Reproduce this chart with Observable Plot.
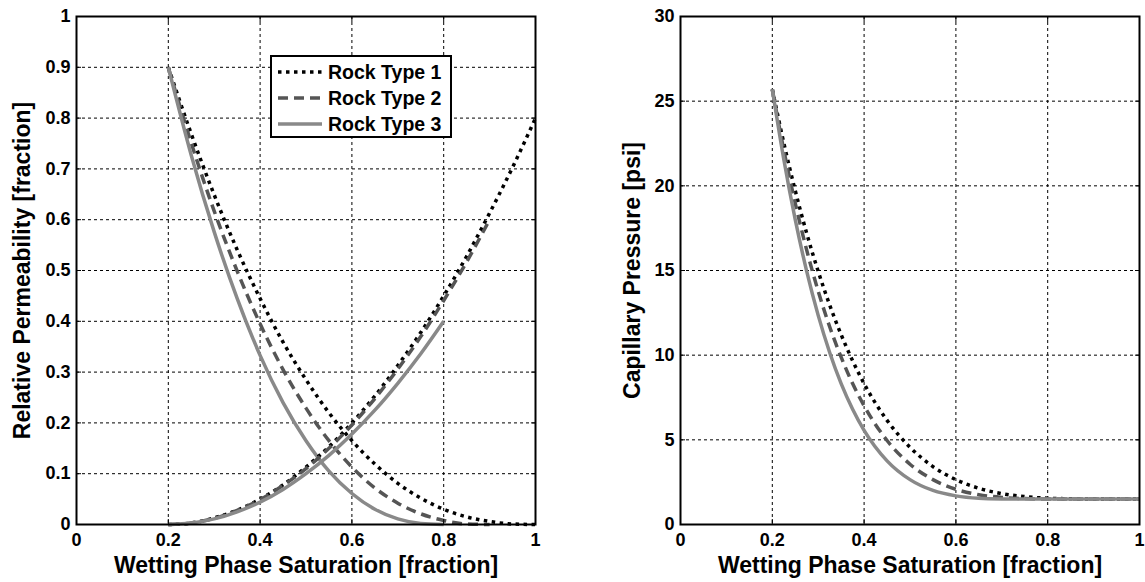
<!DOCTYPE html>
<html>
<head>
<meta charset="utf-8">
<script src="https://cdn.jsdelivr.net/npm/d3@7"></script>
<script src="https://cdn.jsdelivr.net/npm/@observablehq/plot@0.6"></script>
<style>
  html, body { margin: 0; padding: 0; background: #fff; }
  #figure { position: relative; width: 1145px; height: 582px; overflow: hidden; font-family: "Liberation Sans", Arial, sans-serif; }
  #figure > .panel { position: absolute; top: 0; }
  #legend { position: absolute; left: 270px; top: 55px; width: 178px; height: 79px; border: 2px solid #000; background: #fff; }
  #legend .row { position: absolute; left: 0; height: 26px; display: flex; align-items: center; }
  #legend .row span { font-size: 19.5px; font-weight: bold; color: #000; }
</style>
</head>
<body>
<div id="figure"></div>
<script>
// Wetting phase saturation grids [fraction]
const swKr = [0.2, 0.25, 0.3, 0.35, 0.4, 0.45, 0.5, 0.55, 0.6, 0.65, 0.7, 0.75, 0.8, 0.85, 0.9, 0.95, 1];
const swPc = [0.2, 0.225, 0.25, 0.275, 0.3, 0.325, 0.35, 0.375, 0.4, 0.45, 0.5, 0.55, 0.6, 0.65, 0.7, 0.75, 0.8, 0.85, 0.9, 0.95, 1];

// Non-wetting phase relative permeability
const kroType1 = [0.9, 0.769, 0.649, 0.541, 0.445, 0.359, 0.285, 0.220, 0.165, 0.119, 0.081, 0.052, 0.030, 0.015, 0.006, 0.001, 0];
const kroType2 = [0.9, 0.751, 0.617, 0.499, 0.395, 0.305, 0.229, 0.165, 0.113, 0.072, 0.042, 0.021, 0.008, 0.001, 0];
const kroType3 = [0.9, 0.727, 0.576, 0.445, 0.333, 0.240, 0.165, 0.105, 0.061, 0.030, 0.011, 0.002, 0];

// Wetting phase relative permeability
const krwType1 = [0, 0.003, 0.013, 0.028, 0.05, 0.078, 0.113, 0.153, 0.2, 0.253, 0.313, 0.378, 0.45, 0.528, 0.613, 0.703, 0.8];
const krwType2 = [0, 0.003, 0.012, 0.028, 0.049, 0.077, 0.110, 0.150, 0.196, 0.248, 0.306, 0.370, 0.441, 0.517, 0.6];
const krwType3 = [0, 0.003, 0.011, 0.025, 0.044, 0.069, 0.1, 0.136, 0.178, 0.225, 0.278, 0.336, 0.4];

// Capillary pressure [psi]
const pcType1 = [25.7, 22.54, 19.72, 17.19, 14.95, 12.96, 11.21, 9.67, 8.32, 6.15, 4.56, 3.42, 2.65, 2.14, 1.82, 1.65, 1.55, 1.52, 1.5, 1.5, 1.5];
const pcType2 = [25.7, 22.12, 18.97, 16.2, 13.78, 11.68, 9.88, 8.32, 7.01, 4.96, 3.56, 2.65, 2.08, 1.76, 1.6, 1.53, 1.5, 1.5, 1.5, 1.5, 1.5];
const pcType3 = [25.7, 21.57, 18.0, 14.95, 12.35, 10.16, 8.32, 6.81, 5.56, 3.76, 2.65, 2.01, 1.69, 1.55, 1.51, 1.5, 1.5, 1.5, 1.5, 1.5, 1.5];

const rockTypes = ["Rock Type 1", "Rock Type 2", "Rock Type 3"];
const xTicks = [0, 0.2, 0.4, 0.6, 0.8, 1];
const krTicks = [0, 0.1, 0.2, 0.3, 0.4, 0.5, 0.6, 0.7, 0.8, 0.9, 1];
const pcTicks = [0, 5, 10, 15, 20, 25, 30];

// Line styles per rock type: dotted black, dashed dark grey, solid grey
const lineStyles = [
  {stroke: "#000000", strokeDasharray: "3.5,4.5", strokeWidth: 3.5},
  {stroke: "#555555", strokeDasharray: "10,6", strokeWidth: 3.5},
  {stroke: "#898989", strokeDasharray: null, strokeWidth: 3.5}
];

function rows(sw, values) {
  return values.map((v, i) => ({sw: sw[i], v}));
}

function curve(sw, values, k) {
  return Plot.line(rows(sw, values), {x: "sw", y: "v", curve: "monotone-x", strokeLinecap: "butt", ...lineStyles[k]});
}

const gridStyle = {stroke: "#000", strokeOpacity: 1, strokeWidth: 1, strokeDasharray: "3,3"};

function panel({width, marginLeft, marginRight, yDomain, yTicks, yLabel, yLabelDx, curves}) {
  return Plot.plot({
    width, height: 582,
    marginLeft, marginRight, marginTop: 16, marginBottom: 58,
    style: {fontFamily: "'Liberation Sans', Arial, sans-serif", fontSize: "18px", fontWeight: "bold", color: "#000", background: "transparent", overflow: "visible"},
    x: {domain: [0, 1]},
    y: {domain: yDomain},
    marks: [
      Plot.gridX(xTicks, gridStyle),
      Plot.gridY(yTicks, gridStyle),
      ...curves,
      Plot.axisX(xTicks, {tickSize: 0, tickPadding: 9, label: null, tickFormat: d => String(d)}),
      Plot.axisY(yTicks, {tickSize: 0, tickPadding: 6, label: null, tickFormat: d => String(d)}),
      Plot.axisX(xTicks, {anchor: "bottom", tickSize: -5, fill: "none", label: null}),
      Plot.axisX(xTicks, {anchor: "top", tickSize: -5, fill: "none", label: null}),
      Plot.axisY(yTicks, {anchor: "left", tickSize: -5, fill: "none", label: null}),
      Plot.axisY(yTicks, {anchor: "right", tickSize: -5, fill: "none", label: null}),
      Plot.frame({stroke: "#000", strokeWidth: 2}),
      Plot.text(["Wetting Phase Saturation [fraction]"], {text: d => d, frameAnchor: "bottom", textAnchor: "middle", dy: 32, lineAnchor: "top", fontSize: 23, fontWeight: "bold"}),
      Plot.text([yLabel], {text: d => d, frameAnchor: "left", textAnchor: "middle", lineAnchor: "middle", dx: yLabelDx, rotate: -90, fontSize: 23, fontWeight: "bold"})
    ]
  });
}

const figure = document.getElementById("figure");

const left = panel({
  width: 560, marginLeft: 76, marginRight: 25,
  yDomain: [0, 1], yTicks: krTicks,
  yLabel: "Relative Permeability [fraction]", yLabelDx: -54,
  curves: [
    curve(swKr, kroType1, 0), curve(swKr, kroType2, 1), curve(swKr, kroType3, 2),
    curve(swKr, krwType1, 0), curve(swKr, krwType2, 1), curve(swKr, krwType3, 2)
  ]
});
left.classList.add("panel");
left.style.left = "0px";
figure.appendChild(left);

const right = panel({
  width: 565, marginLeft: 100, marginRight: 6,
  yDomain: [0, 30], yTicks: pcTicks,
  yLabel: "Capillary Pressure [psi]", yLabelDx: -48,
  curves: [curve(swPc, pcType1, 0), curve(swPc, pcType2, 1), curve(swPc, pcType3, 2)]
});
right.classList.add("panel");
right.style.left = "580px";
figure.appendChild(right);

// Legend for the relative permeability panel
const legend = document.createElement("div");
legend.id = "legend";
rockTypes.forEach((name, k) => {
  const row = document.createElement("div");
  row.className = "row";
  row.style.top = (2 + 26 * k) + "px";
  const s = lineStyles[k];
  const svg = d3.create("svg").attr("width", 56).attr("height", 26);
  svg.append("line")
    .attr("x1", 6).attr("x2", 50).attr("y1", 13).attr("y2", 13)
    .attr("stroke", s.stroke).attr("stroke-width", s.strokeWidth)
    .attr("stroke-dasharray", s.strokeDasharray);
  row.appendChild(svg.node());
  const label = document.createElement("span");
  label.textContent = name;
  row.appendChild(label);
  legend.appendChild(row);
});
figure.appendChild(legend);
</script>
</body>
</html>
